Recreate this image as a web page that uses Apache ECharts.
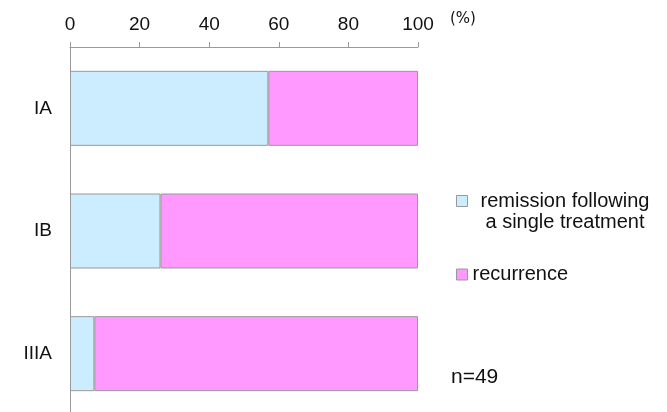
<!DOCTYPE html>
<html>
<head>
<meta charset="utf-8">
<script src="https://cdn.jsdelivr.net/npm/echarts@6/dist/echarts.min.js"></script>
<style>
  html, body { margin: 0; padding: 0; background: #fff; }
  #chart { width: 667px; height: 412px; }
</style>
</head>
<body>
<div id="chart"></div>
<script>
// Stages and share of patients (%) per outcome
const stages = ['IA', 'IB', 'IIIA'];
const remission = [57, 26, 7];
const recurrence = [43, 74, 93];
const seriesNames = ['remission following a single treatment', 'recurrence'];
const xTicks = { min: 0, max: 100, interval: 20 };
const sampleNote = 'n=49';

const FONT = '"Liberation Sans", Arial, sans-serif';
const AXIS_GRAY = '#9a9a9a';
const BLUE = '#CCECFF';
const PINK = '#FF99FF';

const chart = echarts.init(document.getElementById('chart'), null, { renderer: 'canvas' });

const barStyle = (color) => ({ color: color, borderColor: '#999999', borderWidth: 1 });

chart.setOption({
  animation: false,
  backgroundColor: '#ffffff',
  textStyle: { fontFamily: FONT, color: '#111' },
  title: {
    text: sampleNote,
    left: 451,
    top: 366,
    padding: 0,
    textStyle: { fontFamily: FONT, fontSize: 21, fontWeight: 'normal', color: '#111', lineHeight: 22 }
  },
  grid: { left: 70, top: 47, width: 348, height: 368, containLabel: false, outerBoundsMode: 'none' },
  legend: [
    {
      data: [{ name: seriesNames[0], icon: 'rect' }],
      left: 456,
      top: 170,
      padding: 0,
      itemWidth: 11,
      itemHeight: 11,
      selectedMode: false,
      itemStyle: { borderColor: '#999999', borderWidth: 1 },
      formatter: () => '{sp| }\n{a|remission following}\n{b|a single treatment}',
      textStyle: {
        fontFamily: FONT, fontSize: 20, color: '#111',
        rich: {
          sp: { fontSize: 20, lineHeight: 21 },
          a: { fontFamily: FONT, fontSize: 20, lineHeight: 21, padding: [0, 0, 0, 8], color: '#111' },
          b: { fontFamily: FONT, fontSize: 20, lineHeight: 21, padding: [0, 0, 0, 13], color: '#111' }
        }
      }
    },
    {
      data: [{ name: seriesNames[1], icon: 'rect' }],
      left: 456,
      top: 264,
      padding: 0,
      itemWidth: 11,
      itemHeight: 11,
      selectedMode: false,
      itemStyle: { borderColor: '#999999', borderWidth: 1 },
      textStyle: { fontFamily: FONT, fontSize: 20, lineHeight: 21, color: '#111' }
    }
  ],
  xAxis: {
    type: 'value',
    position: 'top',
    min: xTicks.min,
    max: xTicks.max,
    interval: xTicks.interval,
    name: '(%)',
    nameLocation: 'end',
    nameGap: 32,
    nameTextStyle: { fontFamily: '"DejaVu Sans", sans-serif', fontSize: 15, color: '#111', align: 'left', verticalAlign: 'bottom', lineHeight: 56 },
    axisLine: { show: true, lineStyle: { color: AXIS_GRAY, width: 1 } },
    axisTick: { show: true, length: 5, lineStyle: { color: AXIS_GRAY } },
    axisLabel: { fontFamily: FONT, fontSize: 19, color: '#111', margin: 13 },
    splitLine: { show: false }
  },
  yAxis: {
    type: 'category',
    data: stages,
    inverse: true,
    axisLine: { show: true, lineStyle: { color: AXIS_GRAY, width: 1 } },
    axisTick: { show: false },
    axisLabel: { fontFamily: FONT, fontSize: 19, color: '#111', margin: 18 },
    splitLine: { show: false }
  },
  series: [
    {
      name: seriesNames[0],
      type: 'bar',
      stack: 'total',
      barWidth: 75,
      data: remission,
      itemStyle: barStyle(BLUE)
    },
    {
      name: seriesNames[1],
      type: 'bar',
      stack: 'total',
      barWidth: 75,
      data: recurrence,
      itemStyle: barStyle(PINK)
    }
  ]
});
</script>
</body>
</html>
